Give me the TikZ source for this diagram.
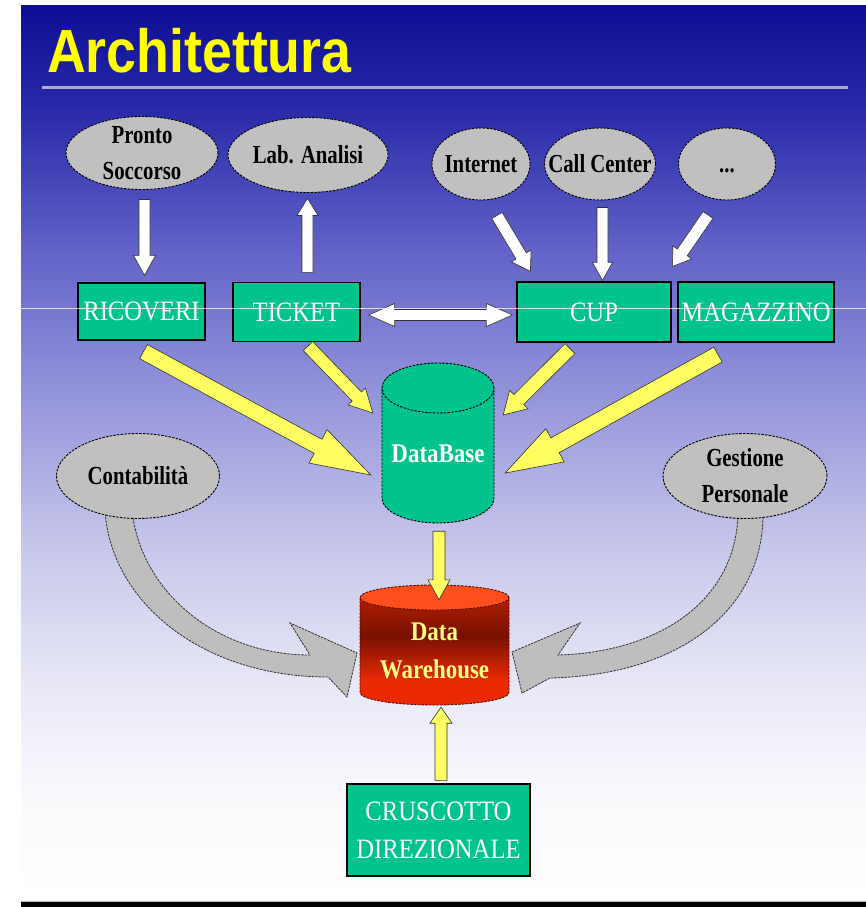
\documentclass[tikz,border=0pt]{standalone}
\usepackage{fontspec}
\usetikzlibrary{shapes.geometric,calc}

\newfontfamily\titlefont{Liberation Sans}[FakeStretch=0.88]
\newfontfamily\lblfont{Liberation Serif}[FakeStretch=0.8]
\newfontfamily\boxfont{Liberation Serif}[FakeStretch=0.88]
\newfontfamily\cylfont{Liberation Serif}[FakeStretch=0.85]

% palette
\definecolor{bg1}{RGB}{250,250,253}
\definecolor{bg2}{RGB}{235,235,248}
\definecolor{bg3}{RGB}{200,200,235}
\definecolor{bg4}{RGB}{150,150,220}
\definecolor{bg5}{RGB}{98,98,200}
\definecolor{bg6}{RGB}{38,38,168}
\definecolor{bg7}{RGB}{14,14,148}
\definecolor{titleyellow}{RGB}{255,255,0}
\definecolor{rulegray}{RGB}{175,170,195}
\definecolor{boxgreen}{RGB}{0,196,140}
\definecolor{ovalgray}{RGB}{192,192,192}
\definecolor{arrowgray}{RGB}{190,190,190}
\definecolor{arrowyellow}{RGB}{255,255,100}
\definecolor{edgedark}{RGB}{50,50,50}
\definecolor{dwbright}{RGB}{235,42,5}
\definecolor{dwmid}{RGB}{175,30,5}
\definecolor{dwdark}{RGB}{120,18,0}
\definecolor{dwcap}{RGB}{255,78,30}
\definecolor{dwtext}{RGB}{255,255,130}

% vertical fades: 25bp = bottom of the path, 75bp = top of the path
\pgfdeclareverticalshading{skyfade}{100bp}{color(0bp)=(white); color(25bp)=(white);
  color(30.6bp)=(bg1); color(36.2bp)=(bg2); color(44.6bp)=(bg3); color(53bp)=(bg4);
  color(61.4bp)=(bg5); color(69.7bp)=(bg6); color(75bp)=(bg7); color(100bp)=(bg7)}
\pgfdeclareverticalshading{dwbody}{100bp}{color(0bp)=(dwbright); color(25bp)=(dwbright);
  color(36bp)=(dwbright); color(57bp)=(dwdark); color(75bp)=(dwmid); color(100bp)=(dwmid)}

% straight block arrow: [style]{from}{to}{half shaft}{half head}{head length}
\newcommand\fatarrow[6][]{%
  \coordinate (fahd) at ($(#3)!#6!(#2)$);
  \filldraw[#1] ($(#2)!#4!90:(#3)$) -- ($(fahd)!#4!90:(#3)$) -- ($(fahd)!#5!90:(#3)$)
    -- (#3) -- ($(fahd)!#5!-90:(#3)$) -- ($(fahd)!#4!-90:(#3)$) -- ($(#2)!#4!-90:(#3)$) -- cycle;}

% double-headed block arrow: [style]{end a}{end b}{half shaft}{half head}{head length}
\newcommand\fatdarrow[6][]{%
  \coordinate (fda) at ($(#2)!#6!(#3)$);
  \coordinate (fdb) at ($(#3)!#6!(#2)$);
  \filldraw[#1] (#2) -- ($(fda)!#5!90:(#3)$) -- ($(fda)!#4!90:(#3)$)
    -- ($(fdb)!#4!-90:(#2)$) -- ($(fdb)!#5!-90:(#2)$) -- (#3)
    -- ($(fdb)!#5!90:(#2)$) -- ($(fdb)!#4!90:(#2)$)
    -- ($(fda)!#4!-90:(#3)$) -- ($(fda)!#5!-90:(#3)$) -- cycle;}

\begin{document}
\begin{tikzpicture}[x=1pt,y=-1pt,
  oval/.style={ellipse, draw=black, line width=0.9pt, dash pattern=on 2.5pt off 1.2pt,
    fill=ovalgray, inner sep=0pt},
  ovaltext/.style={inner sep=0pt, align=center, text=black,
    font=\lblfont\bfseries\fontsize{26}{36}\selectfont},
  gbox/.style={rectangle, draw=black, line width=1.2pt, fill=boxgreen, text=white,
    inner sep=0pt, align=center, font=\boxfont\fontsize{28}{38}\selectfont},
  frame/.style={rectangle, inner sep=0pt},
  whitearrow/.style={fill=white, draw=edgedark, line width=0.6pt, line join=miter},
  yellowarrow/.style={fill=arrowyellow, draw=edgedark, line width=0.6pt, line join=miter},
  grayarrow/.style={fill=arrowgray, draw=edgedark, line width=0.8pt,
    dash pattern=on 2.5pt off 1pt}]

\useasboundingbox (0,0) rectangle (866,907);
\fill[white] (0,0) rectangle (866,907);

% slide background
\shade[shading=skyfade] (21,6) rectangle (866,901);
\fill[black] (21,902) rectangle (866,907);
\draw[gray!60, line width=0.8pt] (21,901.2) -- (866,901.2);

% title and rule
\node[anchor=base west, inner sep=0pt, text=titleyellow,
  font=\titlefont\bfseries\fontsize{61}{61}\selectfont] (title) at (47,72) {Architettura};
\draw[rulegray, line width=3pt] (42,87) -- (848,87);

% curved feeds into the warehouse (drawn below the source ovals)
\draw[grayarrow] (105,510) .. controls (110,600) and (200,677) .. (328,677)
  -- (347,697) -- (357,653) -- (290,623) -- (310,655)
  .. controls (215,655) and (140,590) .. (132,510) -- cycle;
\draw[grayarrow] (763,510) .. controls (765,610) and (680,675) .. (550,678)
  -- (522,693) -- (512,652) -- (580,623) -- (558,655)
  .. controls (660,652) and (738,600) .. (738,510) -- cycle;

% source ovals
\node[oval, minimum width=152pt, minimum height=73pt,
  label={[ovaltext]center:Pronto\\Soccorso}] (ps) at (142,153) {};
\node[oval, minimum width=160pt, minimum height=75pt,
  label={[ovaltext]center:Lab. Analisi}] (lab) at (308,155) {};
\node[oval, minimum width=98pt, minimum height=72pt,
  label={[ovaltext]center:Internet}] (int) at (481,164) {};
\node[oval, minimum width=111pt, minimum height=72pt,
  label={[ovaltext]center:Call Center}] (cc) at (600,164) {};
\node[oval, minimum width=97pt, minimum height=72pt,
  label={[ovaltext, yshift=-7pt]center:...}] (dots) at (727,164) {};
\node[oval, minimum width=163pt, minimum height=85pt,
  label={[ovaltext]center:Contabilità}] (cont) at (138,476) {};
\node[oval, minimum width=164pt, minimum height=85pt,
  label={[ovaltext]center:Gestione\\Personale}] (gest) at (745,476) {};

% application boxes
\node[gbox, minimum width=127pt, minimum height=57pt] (ric) at (141.5,311.5) {RICOVERI};
\node[gbox, minimum width=127pt, minimum height=59pt] (tic) at (296.5,312) {TICKET};
\node[gbox, minimum width=154pt, minimum height=60pt] (cup) at (594,312) {CUP};
\node[gbox, minimum width=156pt, minimum height=60pt] (mag) at (756,312) {MAGAZZINO};
\node[gbox, minimum width=183pt, minimum height=92pt] (cru) at (438.5,830) {CRUSCOTTO\\DIREZIONALE};

% DataBase cylinder
\filldraw[fill=boxgreen, draw=black, line width=0.9pt, dash pattern=on 2.5pt off 1.2pt]
  (382,388) -- (382,498) arc[start angle=180, end angle=360, x radius=56pt, y radius=25pt]
  -- (494,388) -- cycle;
\filldraw[fill=boxgreen, draw=black, line width=0.9pt, dash pattern=on 2.5pt off 1.2pt]
  (438,388) ellipse[x radius=56pt, y radius=25pt];
\node[frame, minimum width=112pt, minimum height=160pt] (db) at (438,443) {};
\node[text=white, inner sep=0pt, font=\cylfont\bfseries\fontsize{27}{36}\selectfont]
  (dblabel) at (438,454) {DataBase};

% Data Warehouse cylinder
\shade[shading=dwbody]
  (360,597.5) -- (360,692.5) arc[start angle=180, end angle=360, x radius=74.5pt, y radius=12.5pt]
  -- (509,597.5) -- cycle;
\draw[draw=dwdark!70!black, line width=0.9pt, dash pattern=on 2.5pt off 1.2pt]
  (360,597.5) -- (360,692.5) arc[start angle=180, end angle=360, x radius=74.5pt, y radius=12.5pt]
  -- (509,597.5);
\filldraw[fill=dwcap, draw=dwdark!70!black, line width=0.9pt, dash pattern=on 2.5pt off 1.2pt]
  (434.5,597.5) ellipse[x radius=74.5pt, y radius=12.5pt];
\node[frame, minimum width=149pt, minimum height=120pt] (dw) at (434.5,645) {};
\node[text=dwtext, inner sep=0pt, align=center,
  font=\cylfont\bfseries\fontsize{27}{38}\selectfont] (dwlabel) at (434.5,651) {Data\\Warehouse};

% arrow end points
\coordinate (a1s) at ($(ps.south)+(2.5,9.5)$);
\coordinate (a1e) at ($(ric.north)+(3,-7)$);
\coordinate (a2s) at ($(tic.north)+(11,-9.5)$);
\coordinate (a2e) at ($(lab.south)+(-0.5,5.5)$);
\coordinate (a3s) at ($(tic.east)+(8,3)$);
\coordinate (a3e) at ($(cup.west)+(-4,3)$);
\coordinate (a4s) at ($(int.south)+(16,15)$);
\coordinate (a4e) at ($(cup.north west)+(14,-10)$);
\coordinate (a5s) at ($(cc.south)+(2.5,7)$);
\coordinate (a5e) at ($(cup.north)+(8.5,-1)$);
\coordinate (a6s) at ($(dots.south)+(-19,14.5)$);
\coordinate (a6e) at ($(cup.north east)+(1,-15)$);
\coordinate (a7s) at ($(ric.south)+(2,11)$);
\coordinate (a7e) at ($(db.west)+(-11,32)$);
\coordinate (a8s) at ($(tic.south)+(11.5,4)$);
\coordinate (a8e) at ($(db.west)+(-9,-30)$);
\coordinate (a9s) at ($(cup.south)+(-24,6)$);
\coordinate (a9e) at ($(db.east)+(9,-28)$);
\coordinate (a10s) at ($(mag.south)+(-38,12)$);
\coordinate (a10e) at ($(db.east)+(11,30)$);
\coordinate (a11s) at ($(db.south)+(1,8)$);
\coordinate (a11e) at ($(dw.north)+(4.5,15)$);
\coordinate (a12s) at ($(cru.north)+(2.5,-3)$);
\coordinate (a12e) at ($(dw.south)+(6.5,2)$);

% white flows between sources and applications
\fatarrow[whitearrow]{a1s}{a1e}{5.5pt}{11pt}{20pt}
\fatarrow[whitearrow]{a2s}{a2e}{5.5pt}{10.5pt}{17pt}
\fatdarrow[whitearrow]{a3s}{a3e}{5.5pt}{11.5pt}{26pt}
\fatarrow[whitearrow]{a4s}{a4e}{6pt}{11.5pt}{18pt}
\fatarrow[whitearrow]{a5s}{a5e}{5.5pt}{10pt}{18pt}
\fatarrow[whitearrow]{a6s}{a6e}{6pt}{11.5pt}{17pt}

% yellow flows into the data stores
\fatarrow[yellowarrow]{a7s}{a7e}{8pt}{19pt}{60pt}
\fatarrow[yellowarrow]{a8s}{a8e}{6.5pt}{12pt}{23pt}
\fatarrow[yellowarrow]{a9s}{a9e}{7pt}{13pt}{22pt}
\fatarrow[yellowarrow]{a10s}{a10e}{8.5pt}{19pt}{57pt}
\fatarrow[yellowarrow]{a11s}{a11e}{6pt}{11pt}{20pt}
\fatarrow[yellowarrow]{a12s}{a12e}{6pt}{11pt}{16pt}

% thin light scan line across the slide
\draw[white, opacity=0.75, line width=0.8pt] (0,308) -- (866,308);
\end{tikzpicture}
\end{document}
